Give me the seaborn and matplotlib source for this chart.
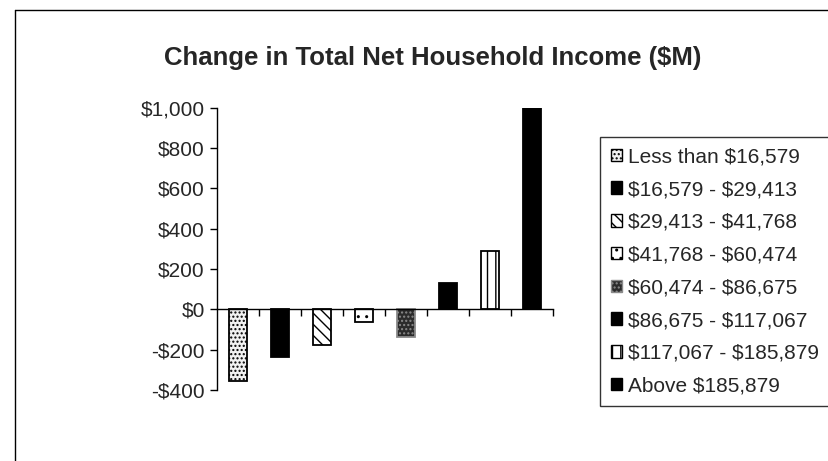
import matplotlib
matplotlib.use("Agg")
import matplotlib.pyplot as plt
from matplotlib.patches import Patch
from matplotlib.lines import Line2D
import seaborn as sns
import pandas as pd

categories = ["Less than $16,579", "$16,579 - $29,413", "$29,413 - $41,768",
              "$41,768 - $60,474", "$60,474 - $86,675", "$86,675 - $117,067",
              "$117,067 - $185,879", "Above $185,879"]
values = [-355, -235, -175, -65, -135, 130, 290, 1000]
yticks = [-400, -200, 0, 200, 400, 600, 800, 1000]
ytick_labels = ["-$400", "-$200", "$0", "$200", "$400", "$600", "$800", "$1,000"]
title = "Change in Total Net Household Income ($M)"

faces = ["#f2f2f2", "black", "white", "white", "#2b2b2b", "black", "white", "black"]
edges = ["black", "black", "black", "black", "#8a8a8a", "black", "black", "black"]
hatches = ["....", None, "\\\\\\", "..", "....", None, "||", None]

sns.set_theme(style="white")
plt.rcParams["font.family"] = ["Liberation Sans", "DejaVu Sans"]


def esc(s):
    return s.replace("$", r"\$")


df = pd.DataFrame({"cat": categories, "val": values})

fig = plt.figure(figsize=(8.29, 4.61), dpi=100)
ax = fig.add_axes([0.262, 0.154, 0.405, 0.612])

sns.barplot(data=df, x="cat", y="val", hue="cat", order=categories, hue_order=categories,
            palette=dict(zip(categories, faces)), dodge=False, width=0.44,
            legend=False, ax=ax, saturation=1)

for i, cont in enumerate(ax.containers):
    for p in cont.patches:
        p.set_facecolor(faces[i])
        p.set_edgecolor(edges[i])
        p.set_linewidth(1.3)
        if hatches[i]:
            p.set_hatch(hatches[i])

ax.set_xlim(-0.5, len(categories) - 0.5)
ax.set_ylim(-400, 1000)
ax.set_yticks(yticks)
ax.set_yticklabels([esc(t) for t in ytick_labels], fontsize=15)
ax.set_xticks([i + 0.5 for i in range(len(categories))])
ax.set_xticklabels([])
ax.set_xlabel("")
ax.set_ylabel("")

for s in ["top", "right"]:
    ax.spines[s].set_visible(False)
ax.spines["bottom"].set_position(("data", 0))
ax.spines["left"].set_color("black")
ax.spines["bottom"].set_color("black")
ax.spines["left"].set_linewidth(1.0)
ax.spines["bottom"].set_linewidth(1.0)
ax.tick_params(axis="y", which="both", left=True, length=5, width=1, color="black", pad=4)
ax.tick_params(axis="x", which="both", bottom=True, length=5, width=1, color="black")

fig.text(0.522, 0.875, esc(title), ha="center", va="center", fontsize=18.5, fontweight="bold")

handles = [Patch(facecolor=faces[i], edgecolor=edges[i], hatch=hatches[i], linewidth=1.0)
           for i in range(len(categories))]
leg = fig.legend(handles, [esc(c) for c in categories], loc="upper left",
                 bbox_to_anchor=(0.724, 0.703),
                 fontsize=15, frameon=True, fancybox=False, edgecolor="black",
                 handlelength=0.55, handleheight=0.55, handletextpad=0.3,
                 labelspacing=0.66, borderpad=0.5, borderaxespad=0)
leg.get_frame().set_linewidth(1.0)

# outer frame lines (chart area border)
fig.add_artist(Line2D([15 / 829, 15 / 829], [0, 1 - 10 / 461], color="black", lw=1.0,
                      transform=fig.transFigure))
fig.add_artist(Line2D([15 / 829, 1], [1 - 10 / 461, 1 - 10 / 461], color="black", lw=1.0,
                      transform=fig.transFigure))

fig.savefig("out.png", dpi=100)
